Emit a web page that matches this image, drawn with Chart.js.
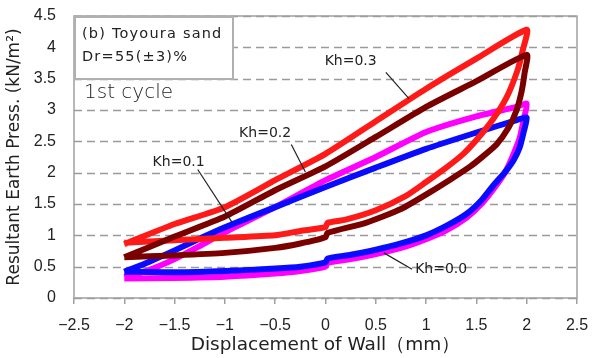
<!DOCTYPE html>
<html>
<head>
<meta charset="utf-8">
<script src="https://cdn.jsdelivr.net/npm/chart.js@4/dist/chart.umd.min.js"></script>
<style>
  html, body { margin: 0; padding: 0; background: #fff; }
  #wrap { width: 593px; height: 358px; }
</style>
</head>
<body>
<div id="wrap"><canvas id="loopChart" width="593" height="358"></canvas></div>
<script>
// wall displacement (mm) vs resultant earth pressure (kN/m2), one loop per Kh
const kh00 = [
  [-2, 0.33], [-1.75, 0.45], [-1.5, 0.62], [-1.25, 0.83], [-1, 1.05], [-0.5, 1.45], [0, 1.88],
  [0.5, 2.25], [1, 2.65], [1.5, 2.9], [1.9, 3.05], [2, 3.1],
  [1.97, 2.85], [1.93, 2.55], [1.87, 2.3], [1.79, 2.02], [1.68, 1.76], [1.55, 1.5], [1.4, 1.28],
  [1.2, 1.08], [1, 0.94], [0.75, 0.8], [0.5, 0.7], [0.25, 0.62], [0.02, 0.56], [0, 0.5],
  [-0.25, 0.43], [-0.5, 0.39], [-1, 0.34], [-1.5, 0.32], [-2, 0.31]
];
const kh01 = [
  [-2, 0.42], [-1.75, 0.58], [-1.5, 0.76], [-1.25, 0.95], [-1, 1.13], [-0.5, 1.45], [0, 1.77],
  [0.5, 2.08], [1, 2.38], [1.5, 2.64], [1.9, 2.84], [2, 2.88],
  [1.97, 2.65], [1.93, 2.4], [1.87, 2.2], [1.78, 2.0], [1.67, 1.8], [1.55, 1.56], [1.4, 1.34],
  [1.2, 1.15], [1, 1.0], [0.75, 0.87], [0.5, 0.77], [0.25, 0.69], [0.02, 0.63], [0, 0.57],
  [-0.25, 0.5], [-0.5, 0.47], [-1, 0.43], [-1.5, 0.41], [-2, 0.42]
];
const kh02 = [
  [-2, 0.65], [-1.5, 0.98], [-1, 1.3], [-0.5, 1.72], [0, 2.1], [0.5, 2.57], [1, 3.05],
  [1.5, 3.46], [2, 3.88],
  [1.98, 3.6], [1.95, 3.3], [1.9, 3.0], [1.82, 2.72], [1.7, 2.45], [1.55, 2.24], [1.44, 2.1],
  [1.25, 1.9], [1.04, 1.69], [0.75, 1.42], [0.4, 1.2], [0.02, 1.04], [0, 0.97],
  [-0.25, 0.87], [-0.5, 0.8], [-1, 0.72], [-1.5, 0.68], [-2, 0.65]
];
const kh03 = [
  [-2, 0.86], [-1.5, 1.18], [-1, 1.45], [-0.5, 1.88], [0, 2.3], [0.5, 2.82], [1, 3.34],
  [1.5, 3.82], [2, 4.28],
  [1.96, 3.95], [1.91, 3.64], [1.8, 3.2], [1.66, 2.84], [1.5, 2.52], [1.37, 2.3], [1.2, 2.08],
  [1.0, 1.85], [0.8, 1.63], [0.5, 1.4], [0.2, 1.25], [0.02, 1.2], [0, 1.13],
  [-0.25, 1.07], [-0.5, 1.0], [-1, 0.96], [-1.5, 0.92], [-2, 0.88]
];

const seriesNames = ['Kh=0.0', 'Kh=0.1', 'Kh=0.2', 'Kh=0.3'];
const seriesColors = ['#ff00ff', '#0a0aff', '#7a0000', '#ff1a1a'];

// label text position, then arrow start and arrow tip (data units)
const labelSpots = [
  { text: 'Kh=0.0', at: [1.15, 0.46], from: [0.86, 0.46], to: [0.58, 0.72] },
  { text: 'Kh=0.1', at: [-1.46, 2.17], from: [-1.27, 2.05], to: [-0.93, 1.21] },
  { text: 'Kh=0.2', at: [-0.6, 2.62], from: [-0.34, 2.45], to: [-0.2, 2.01] },
  { text: 'Kh=0.3', at: [0.25, 3.77], from: [0.6, 3.6], to: [0.83, 3.18] }
];

const FONT = '"DejaVu Sans", sans-serif';
const TICKFONT = '"Liberation Sans", Arial, sans-serif';
const pts = arr => arr.map(p => ({ x: p[0], y: p[1] }));
const loops = [kh00, kh01, kh02, kh03];
const fmt = v => String(+v.toFixed(1)).replace('-', '\u2212');

const decor = {
  id: 'decor',
  beforeDatasetsDraw(chart) {
    // dashed horizontal grid
    const { ctx, chartArea: a, scales: { y } } = chart;
    ctx.save();
    ctx.strokeStyle = '#9a9a9a';
    ctx.lineWidth = 1.3;
    ctx.setLineDash([8, 5]);
    y.ticks.forEach(t => {
      const py = Math.round(y.getPixelForValue(t.value)) + 0.5;
      ctx.beginPath();
      ctx.moveTo(a.left, py);
      ctx.lineTo(a.right, py);
      ctx.stroke();
    });
    ctx.restore();
  },
  afterDraw(chart) {
    const { ctx, chartArea: a, scales: { x, y } } = chart;
    ctx.save();
    // frame
    ctx.strokeStyle = '#a0a0a0';
    ctx.lineWidth = 1.5;
    ctx.strokeRect(a.left, a.top, a.right - a.left, a.bottom - a.top);

    // info box
    ctx.fillStyle = '#fff';
    ctx.fillRect(a.left + 1, a.top + 1, 158, 62);
    ctx.strokeStyle = '#b0b0b0';
    ctx.lineWidth = 2;
    ctx.strokeRect(a.left + 1, a.top + 1, 158, 62);
    ctx.fillStyle = '#222';
    ctx.textBaseline = 'middle';
    ctx.textAlign = 'left';
    ctx.font = '14.5px ' + FONT;
    ctx.letterSpacing = '1.2px';
    ctx.fillText('(b) Toyoura sand', a.left + 8, a.top + 18);
    ctx.fillText('Dr=55(±3)%', a.left + 8, a.top + 41);
    ctx.letterSpacing = '0px';
    ctx.font = '200 20px ' + FONT;
    ctx.fillText('1st cycle', a.left + 10, a.top + 77);

    // Kh labels with leader lines
    ctx.font = '14px ' + FONT;
    ctx.textAlign = 'center';
    ctx.strokeStyle = '#222';
    ctx.lineWidth = 1.2;
    labelSpots.forEach(s => {
      ctx.fillText(s.text, x.getPixelForValue(s.at[0]), y.getPixelForValue(s.at[1]));
      ctx.beginPath();
      ctx.moveTo(x.getPixelForValue(s.from[0]), y.getPixelForValue(s.from[1]));
      ctx.lineTo(x.getPixelForValue(s.to[0]), y.getPixelForValue(s.to[1]));
      ctx.stroke();
    });
    ctx.restore();
  }
};

new Chart(document.getElementById('loopChart'), {
  type: 'scatter',
  data: {
    datasets: loops.map((arr, i) => ({
      label: seriesNames[i],
      data: pts(arr),
      showLine: true,
      borderColor: seriesColors[i],
      backgroundColor: seriesColors[i],
      borderWidth: 6,
      pointRadius: 0,
      tension: 0.2,
      order: [3, 2, 0, 1][i]
    }))
  },
  options: {
    responsive: false,
    animation: false,
    layout: { padding: { top: 16, right: 16, left: 0, bottom: 0 } },
    plugins: { legend: { display: false }, tooltip: { enabled: false } },
    scales: {
      x: {
        type: 'linear',
        min: -2.5,
        max: 2.5,
        ticks: {
          stepSize: 0.5,
          padding: 12,
          color: '#222',
          font: { family: TICKFONT, size: 16 },
          callback: v => fmt(v)
        },
        grid: { drawOnChartArea: false, drawTicks: true, tickLength: 6, color: '#a0a0a0', lineWidth: 1.5 },
        border: { display: false },
        title: {
          display: true,
          text: 'Displacement of Wall（mm）',
          color: '#222',
          font: { family: FONT, size: 18.5 },
          padding: { top: 0, bottom: 2 }
        },
        afterFit(scale) {
          scale.height = 60;
          scale.paddingLeft = 0;
          scale.paddingRight = 0;
        }
      },
      y: {
        min: 0,
        max: 4.5,
        ticks: {
          stepSize: 0.5,
          padding: 10,
          color: '#222',
          font: { family: TICKFONT, size: 16 },
          callback: v => fmt(v)
        },
        grid: { display: false },
        border: { display: false },
        title: {
          display: true,
          text: 'Resultant Earth Press. (kN/m²)',
          color: '#222',
          font: { family: FONT, size: 17 },
          padding: { top: 4, bottom: 0 }
        },
        afterFit(scale) {
          scale.width = 74;
          scale.paddingTop = 0;
          scale.paddingBottom = 0;
        }
      }
    }
  },
  plugins: [decor]
});
</script>
</body>
</html>
